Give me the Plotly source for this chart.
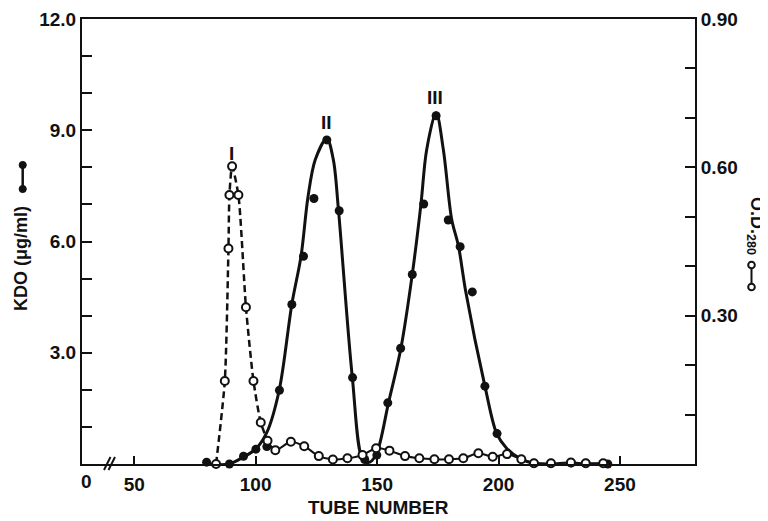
import plotly.graph_objects as go

# ---------------- data ----------------
# KDO (ug/ml), filled circles
kdo_tube = [79.8, 89.2, 95.0, 100.1, 104.6, 109.8, 114.9, 119.7, 124.0, 129.3, 134.4,
            139.9, 144.9, 149.9, 154.4, 159.7, 164.5, 169.2, 174.3, 179.3, 184.2,
            189.2, 194.4, 199.4, 214.5, 221.5, 230.0, 236.0, 245.0]
kdo_val = [0.05, 0.0, 0.21, 0.40, 0.47, 1.99, 4.30, 5.60, 7.16, 8.74, 6.83,
           2.33, 0.12, 0.24, 1.65, 3.12, 5.11, 7.01, 9.39, 6.58, 5.86,
           4.64, 2.10, 0.82, 0.02, 0.02, 0.03, 0.02, 0.0]

# KDO smooth curve as drawn in the figure
kdo_curve_tube = [80, 89, 95, 100, 104.6, 109.7, 114.9, 118.7, 121.5, 124.5, 129.3, 132.0,
                  134.1, 139.8, 144.2, 147.0, 149.9, 154.7, 159.8, 164.5, 168.1, 170.4,
                  174.3, 177.3, 180.7, 183.5, 186.5, 194.4, 199.3, 203.4, 208.8, 214.3, 245]
kdo_curve_val = [0, 0, 0.19, 0.40, 0.85, 1.99, 4.31, 5.61, 7.18, 8.2, 8.78, 8.2,
                 6.85, 2.34, 0.1, 0.05, 0.3, 1.65, 3.12, 5.12, 7.03, 8.47,
                 9.47, 8.47, 6.6, 5.88, 4.65, 2.1, 0.81, 0.42, 0.15, 0.02, 0]

# O.D. 280, open circles
od_tube = [83.7, 87.3, 88.8, 89.2, 90.3, 92.9, 96.0, 99.1, 102.1, 104.9,
           108.1, 114.5, 120.0, 126.0, 131.8, 137.8, 144.0, 149.6, 155.1, 161.5,
           167.4, 173.6, 179.6, 185.5, 191.7, 197.6, 203.5, 209.4, 214.6, 221.6,
           229.8, 235.9, 243.1]
od_val = [0.0, 0.168, 0.436, 0.544, 0.602, 0.544, 0.317, 0.168, 0.084, 0.047,
          0.028, 0.045, 0.036, 0.016, 0.009, 0.0115, 0.018, 0.032, 0.027, 0.016,
          0.0115, 0.0095, 0.0095, 0.0115, 0.0216, 0.0147, 0.020, 0.0095, 0.0015, 0.0015,
          0.003, 0.0015, 0.0015]
od_dashed_count = 10   # first points joined by a dashed line (peak I)

x_tick_vals = [50, 100, 150, 200, 250]
x_tick_text = ["50", "100", "150", "200", "250"]
kdo_tick_vals = [1, 2, 3, 4, 5, 6, 7, 8, 9, 10, 11, 12]
kdo_tick_text = [" ", " ", "3.0", " ", " ", "6.0", " ", " ", "9.0", " ", " ", "12.0"]
od_tick_vals = [0.1, 0.2, 0.3, 0.4, 0.5, 0.6, 0.7, 0.8, 0.9]
od_tick_text = [" ", " ", "0.30", " ", " ", "0.60", " ", " ", "0.90"]
peak_labels = ["I", "II", "III"]

# ---------------- layout geometry ----------------
# The page body adds an 8px margin, so the figure is 8px smaller and all
# screen pixel positions below are shifted by OFF.
OFF = 8
W, H = 768 - OFF, 521 - OFF
L, R, T, B = 82, 695, 19, 464          # plot area in screen pixels


def px(x):
    return (x - L) / (R - L)


def py(y):
    return (B - y) / (B - T)


FONT = "Liberation Sans, Arial, Helvetica, sans-serif"
BLACK = "#111111"

fig = go.Figure()

# KDO curve
fig.add_trace(go.Scatter(x=kdo_curve_tube, y=kdo_curve_val, mode="lines",
                         line=dict(color=BLACK, width=3, shape="spline", smoothing=0.9),
                         yaxis="y", cliponaxis=False, hoverinfo="skip", showlegend=False))
# KDO points
fig.add_trace(go.Scatter(x=kdo_tube, y=kdo_val, mode="markers",
                         marker=dict(color=BLACK, size=9, line=dict(width=0)),
                         yaxis="y", cliponaxis=False, showlegend=False))
# OD dashed (peak I)
fig.add_trace(go.Scatter(x=od_tube[:od_dashed_count], y=od_val[:od_dashed_count], mode="lines",
                         line=dict(color=BLACK, width=2.5, dash="7px,4px", shape="spline", smoothing=0.6),
                         yaxis="y2", cliponaxis=False, hoverinfo="skip", showlegend=False))
# OD solid part
fig.add_trace(go.Scatter(x=od_tube[od_dashed_count - 1:], y=od_val[od_dashed_count - 1:], mode="lines",
                         line=dict(color=BLACK, width=2, shape="spline", smoothing=0.8),
                         yaxis="y2", cliponaxis=False, hoverinfo="skip", showlegend=False))
# OD markers
fig.add_trace(go.Scatter(x=od_tube, y=od_val, mode="markers",
                         marker=dict(color="white", size=8, line=dict(color=BLACK, width=2)),
                         yaxis="y2", cliponaxis=False, showlegend=False))

tickfont = dict(family=FONT, size=19, color=BLACK, weight="bold")
labfont = dict(family=FONT, size=19, color=BLACK, weight="bold")

fig.update_layout(
    width=W, height=H,
    margin=dict(l=L - OFF, r=768 - R, t=T - OFF, b=521 - B, pad=0),
    paper_bgcolor="white", plot_bgcolor="white",
    showlegend=False,
    xaxis=dict(range=[28.5, 280.9], tickvals=x_tick_vals, ticktext=x_tick_text,
               ticks="inside", ticklen=8, tickwidth=2, tickcolor=BLACK,
               showline=True, linecolor=BLACK, linewidth=2, mirror=True,
               showgrid=False, zeroline=False, tickfont=tickfont, automargin=False,
               ticklabelstandoff=2),
    yaxis=dict(range=[0, 12], tickvals=kdo_tick_vals, ticktext=kdo_tick_text,
               ticks="inside", ticklen=10, tickwidth=2, tickcolor=BLACK,
               showline=True, linecolor=BLACK, linewidth=2,
               showgrid=False, zeroline=False, tickfont=tickfont, automargin=False),
    yaxis2=dict(range=[0, 0.9], tickvals=od_tick_vals, ticktext=od_tick_text,
                overlaying="y", side="right",
                ticks="inside", ticklen=10, tickwidth=2, tickcolor=BLACK,
                showline=True, linecolor=BLACK, linewidth=2,
                showgrid=False, zeroline=False, tickfont=tickfont, automargin=False),
)

ann = []
# "0" label at the broken start of the x axis
ann.append(dict(x=px(86), y=py(481), xref="paper", yref="paper", text="0", showarrow=False,
                font=tickfont, xanchor="center", yanchor="middle"))
# x axis title
ann.append(dict(x=px(378), y=py(508), xref="paper", yref="paper", text="TUBE NUMBER",
                showarrow=False, font=labfont, xanchor="center", yanchor="middle"))
# left title
ann.append(dict(x=px(21), y=py(259), xref="paper", yref="paper", text="KDO (\u03bcg/ml)",
                showarrow=False, textangle=-90,
                font=dict(family=FONT, size=18, color=BLACK, weight="bold"),
                xanchor="center", yanchor="middle"))
# right title
ann.append(dict(x=px(756), y=py(226), xref="paper", yref="paper",
                text="O.D.<sub>280</sub>", showarrow=False, textangle=90,
                font=dict(family=FONT, size=18, color=BLACK, weight="bold"),
                xanchor="center", yanchor="middle"))
# peak labels
for lab, (lx, ly) in zip(peak_labels, [(231, 153), (326, 122), (435, 97)]):
    ann.append(dict(x=px(lx), y=py(ly), xref="paper", yref="paper", text=lab, showarrow=False,
                    font=labfont, xanchor="center", yanchor="middle"))
fig.update_layout(annotations=ann)

shapes = []
# axis-break marks
for x0 in (104, 108.5):
    shapes.append(dict(type="line", xref="paper", yref="paper",
                       x0=px(x0), y0=py(470), x1=px(x0 + 6.5), y1=py(457),
                       line=dict(color=BLACK, width=2)))
# legend symbol left (filled circles joined)
shapes.append(dict(type="line", xref="paper", yref="paper", x0=px(22.7), x1=px(22.7),
                   y0=py(165), y1=py(189), line=dict(color=BLACK, width=2.5)))
for cy in (165, 189):
    shapes.append(dict(type="circle", xref="paper", yref="paper",
                       x0=px(22.7 - 3.6), x1=px(22.7 + 3.6), y0=py(cy + 3.6), y1=py(cy - 3.6),
                       fillcolor=BLACK, line=dict(color=BLACK, width=1)))
# legend symbol right (open circles joined)
shapes.append(dict(type="line", xref="paper", yref="paper", x0=px(751.5), x1=px(751.5),
                   y0=py(268), y1=py(284), line=dict(color=BLACK, width=2)))
for cy in (265, 287):
    shapes.append(dict(type="circle", xref="paper", yref="paper",
                       x0=px(751.5 - 3.3), x1=px(751.5 + 3.3), y0=py(cy + 3.3), y1=py(cy - 3.3),
                       fillcolor="white", line=dict(color=BLACK, width=2)))
fig.update_layout(shapes=shapes)

fig.write_html("out.html")
